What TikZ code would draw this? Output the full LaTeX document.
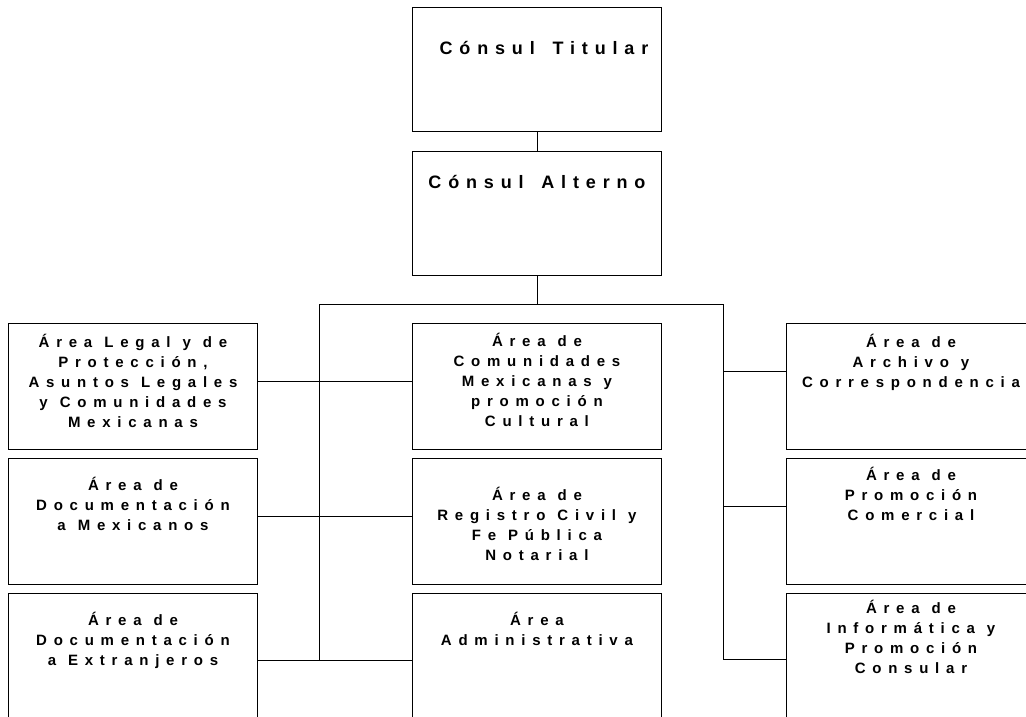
\documentclass[tikz,border=0pt]{standalone}
\usepackage{fontspec}
\setmainfont{Liberation Sans}
\newfontfamily\titlefont[LetterSpace=38,WordSpace=1.5]{Liberation Sans}
\newfontfamily\areafont[LetterSpace=45,WordSpace=1.1]{Liberation Sans}
\usetikzlibrary{positioning}

\begin{document}
\begin{tikzpicture}[x=1pt,y=-1pt,line width=0.9pt]
      \tikzstyle{unit}=[draw=black,rectangle,anchor=north west,inner sep=0pt,minimum width=249pt,minimum height=126pt]
      \tikzstyle{chief}=[unit,minimum height=124pt]
      \tikzstyle{ttl}=[anchor=north,inner sep=0pt,font=\titlefont\bfseries\fontsize{18}{22}\selectfont]
      \tikzstyle{txt}=[anchor=north,inner sep=0pt,align=center,font=\areafont\bfseries\fontsize{15}{20}\selectfont]

      \useasboundingbox (0,0) rectangle (1026,717);
      \clip (0,0) rectangle (1026,717);

      % jefatura
      \node[chief] (tit) at (412,7) {};
      \node[chief] (alt) at (412,151) {};
      \node[ttl,xshift=7pt] at ([yshift=-34pt]tit.north) {Cónsul Titular};
      \node[ttl] at ([yshift=-24pt]alt.north) {Cónsul Alterno};

      % areas
      \node[unit] (legal) at (8,323) {};
      \node[unit] (docmex) at (8,458) {};
      \node[unit] (docext) at (8,593) {};
      \node[unit] (comu) at (412,323) {};
      \node[unit] (regis) at (412,458) {};
      \node[unit] (admin) at (412,593) {};
      \node[unit] (arch) at (786,323) {};
      \node[unit] (prom) at (786,458) {};
      \node[unit] (info) at (786,593) {};

      \node[txt] at ([yshift=-10.5pt]legal.north) {Área Legal y de\\Protección,\\Asuntos Legales\\y Comunidades\\Mexicanas};
      \node[txt] at ([yshift=-18.5pt]docmex.north) {Área de\\Documentación\\a Mexicanos};
      \node[txt] at ([yshift=-18.5pt]docext.north) {Área de\\Documentación\\a Extranjeros};
      \node[txt] at ([yshift=-10pt]comu.north) {Área de\\Comunidades\\Mexicanas y\\promoción\\Cultural};
      \node[txt] at ([yshift=-28.5pt]regis.north) {Área de\\Registro Civil y\\Fe Pública\\Notarial};
      \node[txt] at ([yshift=-18.5pt]admin.north) {Área\\Administrativa};
      \node[txt] at ([yshift=-10.5pt]arch.north) {Área de\\Archivo y\\Correspondencia};
      \node[txt] at ([yshift=-8.5pt]prom.north) {Área de\\Promoción\\Comercial};
      \node[txt] at ([yshift=-6.5pt]info.north) {Área de\\Informática y\\Promoción\\Consular};

      % lineas
      \coordinate (busL) at (319,304);
      \coordinate (busR) at (723,304);
      \coordinate (jL1) at (319,381);
      \coordinate (jL2) at (319,516);
      \coordinate (jL3) at (319,660);
      \coordinate (jR1) at (723,371);
      \coordinate (jR2) at (723,506);
      \coordinate (jR3) at (723,659);

      \draw (tit.south) -- (alt.north);
      \draw (alt.south) -- (alt.south |- busL);
      \draw (busL) -- (busR);
      \draw (busL) -- (jL3);
      \draw (busR) -- (jR3);
      \draw (legal.east |- jL1) -- (comu.west |- jL1);
      \draw (docmex.east |- jL2) -- (regis.west |- jL2);
      \draw (docext.east |- jL3) -- (admin.west |- jL3);
      \draw (jR1) -- (arch.west |- jR1);
      \draw (jR2) -- (prom.west |- jR2);
      \draw (jR3) -- (info.west |- jR3);
\end{tikzpicture}
\end{document}
